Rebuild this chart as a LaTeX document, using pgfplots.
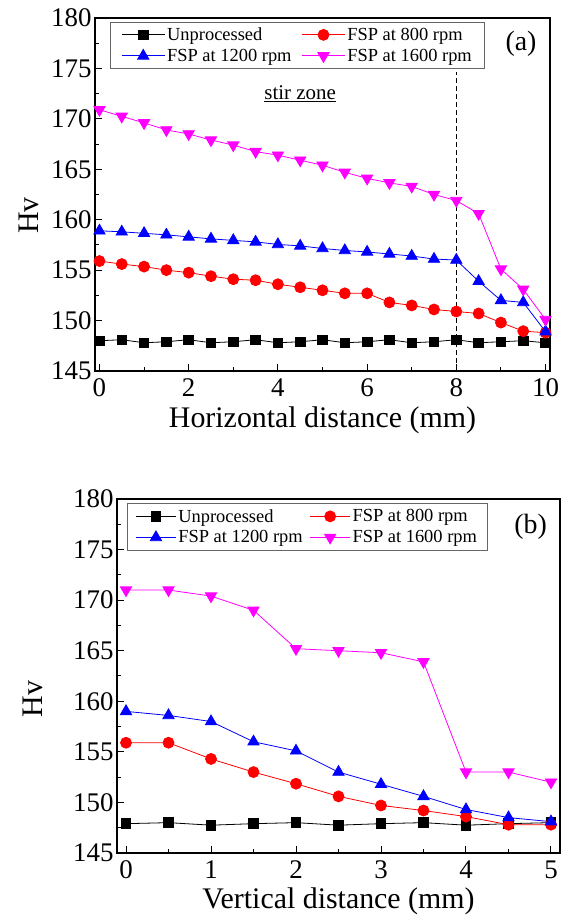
\documentclass[border=0pt]{standalone}
\usepackage{fontspec}
\setmainfont{Liberation Serif}
\usepackage{pgfplots}
\pgfplotsset{compat=1.18}
\definecolor{mymag}{RGB}{255,0,255}
\definecolor{myblue}{RGB}{0,0,255}
\definecolor{myred}{RGB}{255,0,0}

\pgfplotsset{
  hvstyle/.style={
    scale only axis,
    clip=false,
    axis line style={line width=1.5bp},
    tick align=inside,
    xtick pos=bottom, ytick pos=left,
    major tick length=7bp, minor tick length=3.5bp,
    every tick/.style={black, line width=1bp},
    ymin=145, ymax=180, ytick={145,150,...,180}, minor y tick num=1,
    /pgf/number format/assume math mode=true,
    tick label style={font=\fontsize{27}{27}\selectfont},
    xticklabel style={yshift=-4bp},
    label style={font=\fontsize{30}{30}\selectfont},
    ylabel={Hv},
    legend columns=2,
    legend cell align=left,
    legend style={font=\fontsize{18.5}{18.5}\selectfont, draw=black!60, line width=0.7bp,
      inner xsep=11bp, inner ysep=3.5bp, row sep=3bp,
      nodes={inner sep=2bp},
      /tikz/every even column/.append style={column sep=8bp}},
    legend image code/.code={\draw[mark repeat=2,mark phase=2,line width=0.8bp,##1] plot coordinates {(0bp,0bp)(21.5bp,0bp)(43bp,0bp)};},
    every axis plot/.append style={line width=0.8bp},
  },
  unp/.style={black, mark=square*, mark size=4.8bp, mark options={solid, fill=black}},
  r800/.style={myred, mark=*, mark size=5.5bp, mark options={solid, fill=myred}},
  b1200/.style={myblue, mark=triangle*, mark size=6.5bp, mark options={solid, fill=myblue}},
  m1600/.style={mymag, mark=triangle*, mark size=6.5bp, mark options={solid, fill=mymag, rotate=180}},
}

\pgfplotstableread{
x unp r800 b1200 m1600
0   148.0 155.9  158.9  170.9
0.5 148.1 155.6  158.8  170.25
1   147.8 155.35 158.65 169.6
1.5 147.9 155.0  158.5  168.9
2   148.1 154.75 158.3  168.5
2.5 147.8 154.4  158.1  167.9
3   147.9 154.1  157.95 167.4
3.5 148.1 154.0  157.8  166.75
4   147.8 153.6  157.55 166.4
4.5 147.9 153.3  157.4  165.9
5   148.1 153.0  157.15 165.4
5.5 147.8 152.7  156.95 164.7
6   147.9 152.7  156.8  164.1
6.5 148.1 151.8  156.6  163.65
7   147.8 151.5  156.4  163.3
7.5 147.9 151.1  156.1  162.5
8   148.1 150.9  156.0  161.9
8.5 147.8 150.7  153.9  160.6
9   147.9 149.8  152.0  155.1
9.5 148.0 148.95 151.8  153.1
10  147.8 148.8  148.9  150.1
}\tablea

\pgfplotstableread{
x unp r800 b1200 m1600
0   147.9  155.9 159.0 171.0
0.5 148.0  155.9 158.6 171.0
1   147.75 154.3 158.0 170.4
1.5 147.9  153.0 156.0 169.0
2   148.0  151.85 155.1 165.2
2.5 147.75 150.6 153.0 165.0
3   147.9  149.7 151.8 164.8
3.5 148.0  149.2 150.6 163.9
4   147.75 148.6 149.3 153.0
4.5 147.9  147.8 148.5 153.0
5   148.0  147.8 148.1 152.0
}\tableb

\begin{document}
\begin{tikzpicture}
\useasboundingbox (0,0) rectangle (569bp,922bp);
\begin{axis}[hvstyle,
  at={(95bp,551bp)}, anchor=south west, width=455bp, height=353bp,
  xmin=-0.1, xmax=10.1, xtick={0,2,...,10}, minor x tick num=1,
  xlabel={Horizontal distance (mm)},
  xlabel style={at={(axis description cs:0.5,-0.159)}, anchor=base, inner sep=0pt},
  ylabel style={at={(axis description cs:-0.145,0.44)}, anchor=center, rotate=0, inner sep=0pt},
  legend style={at={(axis description cs:0.033,0.989)}, anchor=north west},
]
\addplot[unp] table[x=x,y=unp] {\tablea}; \addlegendentry{Unprocessed}
\addplot[r800] table[x=x,y=r800] {\tablea}; \addlegendentry{FSP at 800 rpm}
\addplot[b1200] table[x=x,y=b1200] {\tablea}; \addlegendentry{FSP at 1200 rpm}
\addplot[m1600] table[x=x,y=m1600] {\tablea}; \addlegendentry{FSP at 1600 rpm}
\addplot[black, no markers, line width=1.2bp, dash pattern=on 5bp off 3bp, forget plot] coordinates {(8,145)(8,174.6)};
\node[font=\fontsize{21}{21}\selectfont, anchor=base] at (axis cs:4.5,171.9) {\underline{stir zone}};
\node[font=\fontsize{28}{28}\selectfont, anchor=base] at (axis cs:9.45,176.75) {(a)};
\end{axis}

\begin{axis}[hvstyle,
  at={(117bp,69bp)}, anchor=south west, width=443bp, height=354bp,
  xmin=-0.106, xmax=5.106, xtick={0,1,...,5}, minor x tick num=1,
  xlabel={Vertical distance (mm)},
  xlabel style={at={(axis description cs:0.5,-0.158)}, anchor=base, inner sep=0pt},
  ylabel style={at={(axis description cs:-0.19,0.435)}, anchor=center, inner sep=0pt},
  legend style={at={(axis description cs:0.023,0.989)}, anchor=north west,
    inner xsep=8bp, inner ysep=4bp, row sep=3bp,
    /tikz/every even column/.append style={column sep=5bp}},
  legend image code/.code={\draw[mark repeat=2,mark phase=2,line width=0.8bp,#1] plot coordinates {(0bp,0bp)(20bp,0bp)(40bp,0bp)};},
]
\addplot[unp] table[x=x,y=unp] {\tableb}; \addlegendentry{Unprocessed}
\addplot[r800] table[x=x,y=r800] {\tableb}; \addlegendentry{FSP at 800 rpm}
\addplot[b1200] table[x=x,y=b1200] {\tableb}; \addlegendentry{FSP at 1200 rpm}
\addplot[m1600] table[x=x,y=m1600] {\tableb}; \addlegendentry{FSP at 1600 rpm}
\node[font=\fontsize{28}{28}\selectfont, anchor=base] at (axis cs:4.76,176.6) {(b)};
\end{axis}
\end{tikzpicture}
\end{document}
